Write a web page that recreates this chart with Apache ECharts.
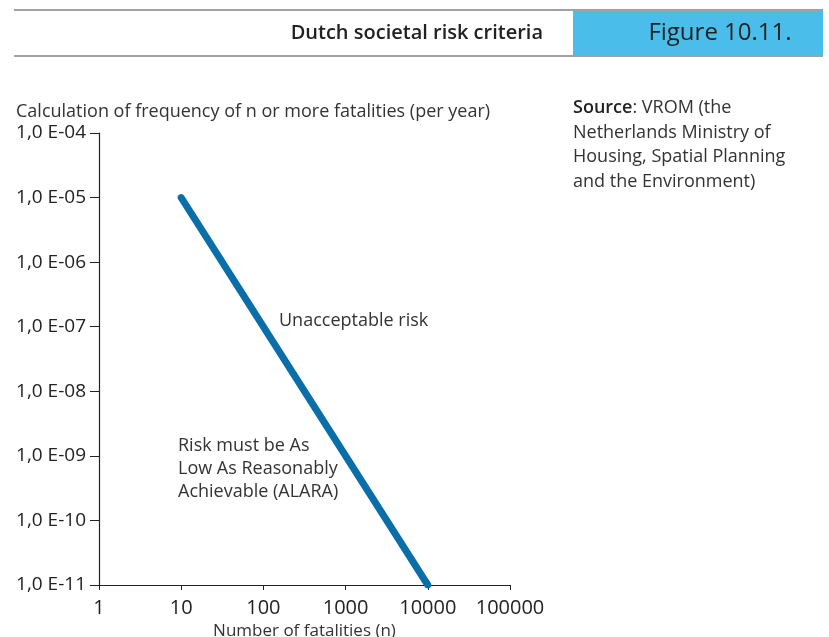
<!DOCTYPE html>
<html><head><meta charset="utf-8">
<script src="https://cdn.jsdelivr.net/npm/echarts@6/dist/echarts.min.js"></script>
<style>html,body{margin:0;padding:0;background:#fff}#c{width:829px;height:637px}</style>
</head><body><div id="c"></div>
<script>
const xTicks = [1, 10, 100, 1000, 10000, 100000];
const yTicks = [1e-11, 1e-10, 1e-9, 1e-8, 1e-7, 1e-6, 1e-5, 1e-4];
const lineN = [10, 10000];
const lineF = [1e-5, 1e-11];
const title = "Dutch societal risk criteria";
const figLabel = "Figure 10.11.";
const yTitle = "Calculation of frequency of n or more fatalities (per year)";
const xTitle = "Number of fatalities (n)";
const sourceLines = ["VROM (the", "Netherlands Ministry of", "Housing, Spatial Planning", "and the Environment)"];
const noteUnacceptable = "Unacceptable risk";
const noteAlara = ["Risk must be As", "Low As Reasonably", "Achievable (ALARA)"];

const FONT = "Open Sans";
function yFmt(v){
  const e = Math.round(Math.log10(v));
  const a = Math.abs(e);
  return "1,0 E" + (e < 0 ? "-" : "+") + (a < 10 ? "0" + a : "" + a);
}
const chart = echarts.init(document.getElementById('c'));
chart.setOption({
  animation: false,
  grid: {left: 99, right: 319, top: 133, bottom: 52, containLabel: false, outerBoundsMode: 'none'},
  xAxis: {
    type: 'log', logBase: 10, min: xTicks[0], max: xTicks[xTicks.length-1],
    name: xTitle, nameLocation: 'middle', nameGap: 38,
    nameTextStyle: {fontFamily: FONT, fontSize: 17, color: '#333'},
    axisLine: {lineStyle: {color: '#222', width: 1.2}},
    axisTick: {show: true, length: 5, lineStyle: {color: '#222'}},
    axisLabel: {fontFamily: FONT, fontSize: 20, color: '#222', margin: 13, formatter: v => String(Math.round(v))},
    splitLine: {show: false}, minorTick: {show: false}
  },
  yAxis: {
    type: 'log', logBase: 10, min: yTicks[0], max: yTicks[yTicks.length-1],
    axisLine: {show: true, lineStyle: {color: '#222', width: 1.2}},
    axisTick: {show: true, length: 9, lineStyle: {color: '#222'}},
    axisLabel: {fontFamily: FONT, fontSize: 19, color: '#222', margin: 13, formatter: yFmt, padding: [6, 0, 0, 0]},
    splitLine: {show: false}
  },
  series: [{
    type: 'line', symbol: 'none',
    data: lineN.map((n, i) => [n, lineF[i]]),
    lineStyle: {color: '#0a6fa8', width: 7, cap: 'round'}
  }],
  graphic: [
    {type: 'line', shape: {x1: 14, y1: 10, x2: 823, y2: 10}, style: {stroke: '#444', lineWidth: 1.2}},
    {type: 'line', shape: {x1: 14, y1: 56, x2: 823, y2: 56}, style: {stroke: '#444', lineWidth: 1.2}},
    {type: 'rect', shape: {x: 573, y: 11, width: 250, height: 44}, style: {fill: '#4bbdeb'}},
    {type: 'text', x: 543, y: 33, style: {text: title, fontFamily: FONT, fontSize: 20, fontWeight: 600, fill: '#222', align: 'right', verticalAlign: 'middle'}},
    {type: 'text', x: 720, y: 33, style: {text: figLabel, fontFamily: FONT, fontSize: 24, fill: '#222', align: 'center', verticalAlign: 'middle'}},
    {type: 'text', x: 16, y: 112, style: {text: yTitle, fontFamily: FONT, fontSize: 18, fill: '#333', verticalAlign: 'middle'}},
    {type: 'text', x: 573, y: 96, style: {text: '{b|Source}: ' + sourceLines.join('\n'), rich: {b: {fontWeight: 600, fontFamily: FONT, fontSize: 18, fill: '#222'}}, fontFamily: FONT, fontSize: 18, lineHeight: 24.5, fill: '#333'}},
    {type: 'text', x: 279, y: 321, style: {text: noteUnacceptable, fontFamily: FONT, fontSize: 18, fill: '#333', verticalAlign: 'middle'}},
    {type: 'text', x: 178, y: 434, style: {text: noteAlara.join('\n'), fontFamily: FONT, fontSize: 18, lineHeight: 23, fill: '#333'}}
  ]
});
</script></body></html>
